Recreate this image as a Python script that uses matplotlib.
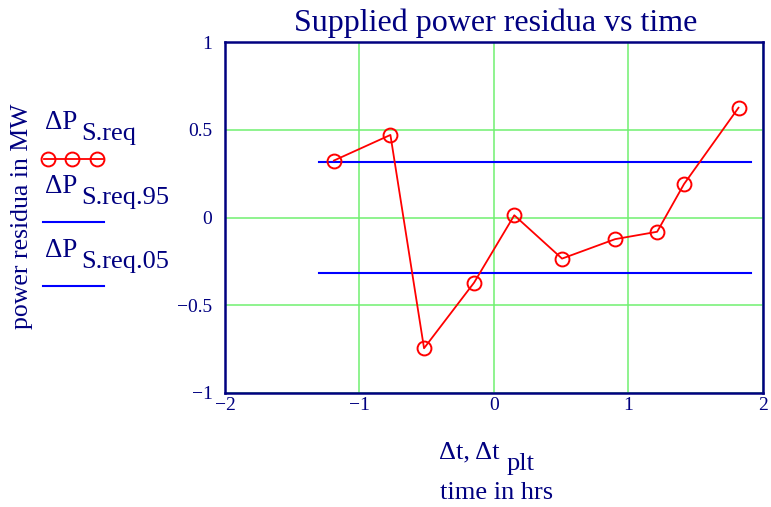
import numpy as np
import matplotlib
matplotlib.use("Agg")
import matplotlib.pyplot as plt
from matplotlib.lines import Line2D

# data
dt = [-1.19, -0.77, -0.52, -0.148, 0.151, 0.506, 0.901, 1.213, 1.413, 1.818]
dP_req = [0.325, 0.471, -0.745, -0.371, 0.013, -0.234, -0.123, -0.081, 0.191, 0.626]
dt_plt = [-1.30, 1.91]
dP_95 = [0.314, 0.314]
dP_05 = [-0.314, -0.314]

xticks = [-2, -1, 0, 1, 2]
yticks = [-1, -0.5, 0, 0.5, 1]
ytick_labels = ["\u22121", "\u22120.5", "0", "0.5", "1"]
xtick_labels = ["\u22122", "\u22121", "0", "1", "2"]

navy = "#000080"
plt.rcParams["font.family"] = ["Liberation Serif", "DejaVu Serif"]

fig = plt.figure(figsize=(7.71, 5.07), dpi=100)
ax = fig.add_axes([0.2918, 0.2249, 0.6978, 0.692])

ax.grid(True, color="#70f070", lw=1.1)
ax.set_axisbelow(True)
ax.plot(dt, dP_req, color="red", lw=1.3, marker="o", ms=10, mfc="none", mew=1.4, zorder=3)
ax.plot(dt_plt, dP_95, color="blue", lw=1.5, zorder=2)
ax.plot(dt_plt, dP_05, color="blue", lw=1.5, zorder=2)

ax.set_xlim(-2, 2)
ax.set_ylim(-1, 1)
ax.set_xticks(xticks)
ax.set_xticklabels(xtick_labels)
ax.set_yticks(yticks)
ax.set_yticklabels(ytick_labels)
ax.tick_params(length=0, labelsize=14, colors=navy, pad=9)
ax.tick_params(axis="x", pad=3)
for s in ax.spines.values():
    s.set_color(navy)
    s.set_linewidth(1.8)

fig.text(0.643, 0.955, "Supplied power residua vs time", fontsize=23, color=navy,
         ha="center", va="center")
fig.text(0.029, 0.574, "power residua in MW", fontsize=18.5, color=navy,
         rotation=90, ha="center", va="center")

# x label, Mathcad style with subscript
fig.text(0.6485, 0.108, "\u0394t,\u2009\u0394t", fontsize=19, color=navy, ha="right", va="center")
fig.text(0.6576, 0.085, "plt", fontsize=19, color=navy, ha="left", va="center")
fig.text(0.644, 0.028, "time in hrs", fontsize=19, color=navy, ha="center", va="center")

# legend on the left
leg_items = [("S.req", 0.759, 0.736), ("S.req.95", 0.633, 0.609), ("S.req.05", 0.505, 0.483)]
for sub, ydelta, ysub in leg_items:
    fig.text(0.059, ydelta, "\u0394P", fontsize=19.5, color=navy, ha="left", va="center")
    fig.text(0.106, ysub, sub, fontsize=19, color=navy, ha="left", va="center")
fig.add_artist(Line2D([0.057, 0.133], [0.687, 0.687], color="red", lw=1.3,
                      transform=fig.transFigure))
fig.add_artist(Line2D([0.062, 0.094, 0.126], [0.687] * 3, color="red", lw=0, marker="o",
                      ms=10, mfc="none", mew=1.4, transform=fig.transFigure))
fig.add_artist(Line2D([0.056, 0.135], [0.562, 0.562], color="blue", lw=1.5,
                      transform=fig.transFigure))
fig.add_artist(Line2D([0.056, 0.135], [0.436, 0.436], color="blue", lw=1.5,
                      transform=fig.transFigure))

fig.savefig("out.png", dpi=100)
